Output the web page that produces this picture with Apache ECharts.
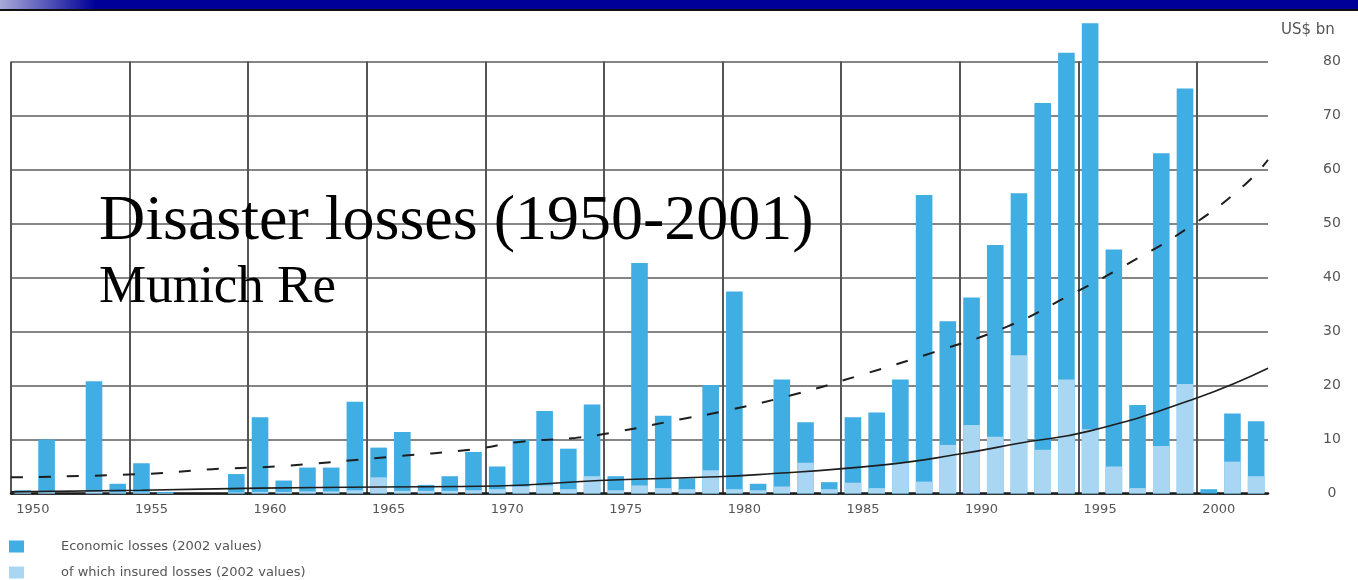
<!DOCTYPE html>
<html>
<head>
<meta charset="utf-8">
<title>Disaster losses (1950-2001)</title>
<script src="https://cdn.jsdelivr.net/npm/echarts@6/dist/echarts.min.js"></script>
<style>
  html, body { margin: 0; padding: 0; background: #ffffff; }
  #chart { width: 1358px; height: 580px; }
</style>
</head>
<body>
<div id="chart"></div>
<script>
// Years on the category axis
const years = [];
for (let y = 1950; y <= 2002; y++) years.push(String(y));

// Economic losses per year, US$ bn (2002 values)
const economicLosses = [
  0.6, 10, 0, 20.8, 1.8, 5.6, 0.3, 0, 0, 3.6,
  14.1, 2.4, 4.8, 4.8, 17, 8.5, 11.4, 1.6, 3.2, 7.7,
  5, 10, 15.3, 8.3, 16.5, 3.2, 42.7, 14.4, 2.8, 20.1,
  37.4, 1.8, 21.1, 13.2, 2.1, 14.1, 15, 21.1, 55.3, 31.9,
  36.3, 46, 55.6, 72.3, 81.6, 87.1, 45.2, 16.4, 63, 75,
  0.8, 14.8, 13.4
];

// Of which insured losses, US$ bn (2002 values)
const insuredLosses = [
  0.3, 0.3, 0, 0.4, 0.2, 0.2, 0.1, 0, 0, 0.2,
  0.3, 0.3, 0.4, 0.4, 0.6, 3.0, 0.5, 0.5, 0.5, 0.6,
  0.8, 1.3, 1.5, 0.8, 3.2, 0.6, 1.5, 1.0, 0.8, 4.3,
  0.8, 0.6, 1.3, 5.7, 0.8, 2.0, 1.0, 5.7, 2.2, 9.0,
  12.7, 10.5, 25.6, 8.1, 21.1, 11.9, 5.0, 1.0, 8.8, 20.3,
  0, 5.9, 3.2
];

// Trend curve of economic losses (dashed)
const economicTrendYears  = [1949.5, 1955, 1958, 1961, 1965.5, 1969, 1971, 1973.3, 1975, 1977.8, 1979.4, 1982.4, 1985.3, 1988.3, 1991.5, 1994, 1996.5, 1999.2, 2001.5, 2002.5];
const economicTrendValues = [3.0, 3.6, 4.5, 5.1, 6.8, 8.2, 9.6, 10.3, 11.4, 13.8, 15.1, 18.2, 21.9, 26.0, 30.9, 36.4, 42.3, 49.4, 57.1, 61.8];

// Trend curve of insured losses (solid)
const insuredTrendYears  = [1949.5, 1955, 1960, 1965, 1970, 1974.3, 1978.6, 1981, 1986.3, 1989.5, 1992, 1995, 1999.5, 2002.5];
const insuredTrendValues = [0.3, 0.6, 1.0, 1.2, 1.4, 2.4, 3.0, 3.5, 5.3, 7.3, 9.3, 11.6, 17.7, 23.2];

// Value axis range
const yMin = 0, yMax = 80, yStep = 10;

const pair = (xs, vs) => xs.map((x, i) => [x, vs[i]]);

const chart = echarts.init(document.getElementById('chart'), null, { renderer: 'canvas' });

const labelFont = 'DejaVu Sans';

chart.setOption({
  backgroundColor: '#ffffff',
  animation: false,
  graphic: [
    {
      type: 'rect', left: 0, top: 0, z: 10,
      shape: { width: 1358, height: 9 },
      style: {
        fill: new echarts.graphic.LinearGradient(0, 0, 1, 0, [
          { offset: 0, color: '#a9a9da' },
          { offset: 0.07, color: '#000099' },
          { offset: 1, color: '#000099' }
        ])
      }
    },
    {
      type: 'rect', left: 0, top: 9, z: 10,
      shape: { width: 1358, height: 2 },
      style: { fill: '#111111' }
    }
  ],
  title: [
    {
      text: 'Disaster losses (1950-2001)',
      left: 94, top: 185,
      textStyle: { fontFamily: 'Liberation Serif', fontSize: 64, fontWeight: 'normal', color: '#000000' }
    },
    {
      text: 'Munich Re',
      left: 94, top: 257,
      textStyle: { fontFamily: 'Liberation Serif', fontSize: 53, fontWeight: 'normal', color: '#000000' }
    },
    {
      text: 'US$ bn',
      left: 1276, top: 18,
      textStyle: { fontFamily: labelFont, fontSize: 15, fontWeight: 'normal', color: '#555555' }
    }
  ],
  legend: {
    orient: 'vertical',
    left: 9, top: 540,
    padding: 0,
    itemWidth: 15, itemHeight: 12,
    itemGap: 13,
    icon: 'rect',
    data: ['Economic losses (2002 values)', 'of which insured losses (2002 values)'],
    textStyle: { fontFamily: labelFont, fontSize: 13, lineHeight: 12, color: '#555555', padding: [0, 0, 0, 32] }
  },
  grid: {
    left: 11, right: 90, top: 61.5, bottom: 86.5,
    containLabel: false,
    outerBoundsMode: 'none'
  },
  xAxis: [
    {
      type: 'category',
      data: years,
      boundaryGap: true,
      axisLine: { show: true, lineStyle: { color: '#1a1a1a', width: 2.5 } },
      axisTick: { show: false, interval: 4 },
      axisLabel: {
        interval: 4,
        margin: 10,
        align: 'center',
        padding: [0, 0, 0, 20],
        fontFamily: labelFont, fontSize: 13, color: '#555555'
      },
      splitLine: {
        show: true, interval: 4, showMaxLine: false,
        lineStyle: { color: '#555555', width: 2 }
      }
    },
    {
      type: 'value',
      min: 1949.5, max: 2002.5,
      show: false,
      splitLine: { show: false }
    }
  ],
  yAxis: {
    type: 'value',
    position: 'right',
    min: yMin, max: yMax, interval: yStep,
    axisLine: { show: false },
    axisTick: { show: false },
    axisLabel: {
      margin: 64, align: 'center',
      fontFamily: labelFont, fontSize: 14, color: '#555555'
    },
    splitLine: { show: true, lineStyle: { color: '#858585', width: 2 } }
  },
  series: [
    {
      name: 'Economic losses (2002 values)',
      type: 'bar',
      xAxisIndex: 0,
      data: economicLosses,
      barWidth: '70%',
      barGap: '-100%',
      clip: false,
      itemStyle: { color: '#40ade3' },
      z: 2
    },
    {
      name: 'of which insured losses (2002 values)',
      type: 'bar',
      xAxisIndex: 0,
      data: insuredLosses,
      barWidth: '70%',
      barGap: '-100%',
      clip: false,
      itemStyle: { color: '#a9d6f3' },
      z: 3
    },
    {
      name: 'Economic trend',
      type: 'line',
      xAxisIndex: 1,
      data: pair(economicTrendYears, economicTrendValues),
      smooth: true,
      symbol: 'none',
      lineStyle: { color: '#1e1e1e', width: 2, type: [12, 16] },
      z: 4
    },
    {
      name: 'Insured trend',
      type: 'line',
      xAxisIndex: 1,
      data: pair(insuredTrendYears, insuredTrendValues),
      smooth: true,
      symbol: 'none',
      lineStyle: { color: '#1e1e1e', width: 1.6 },
      z: 4
    }
  ]
});
</script>
</body>
</html>
